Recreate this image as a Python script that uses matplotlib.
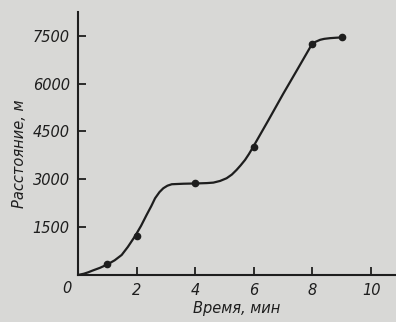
import matplotlib.pyplot as plt

# measured points (time, min / distance, m)
point_t = [1, 2, 4, 6, 8, 9]
point_s = [330, 1230, 2870, 4000, 7250, 7450]

# hand-drawn curve
curve_t = [0, 0.2, 0.35, 0.5, 0.75, 1.0, 1.25, 1.49, 1.7, 1.95, 2.15, 2.34,
           2.5, 2.63, 2.78, 2.91, 3.05, 3.2, 3.6, 4.0, 4.4, 4.62, 4.85,
           5.07, 5.25, 5.41, 5.55, 5.70, 5.83, 5.95, 6.5, 7.0, 7.5, 7.99,
           8.1, 8.26, 8.4, 8.6, 8.8, 9.0]
curve_s = [0, 40, 85, 140, 225, 330, 460, 628, 880, 1224, 1540, 1883,
           2160, 2407, 2600, 2720, 2800, 2846, 2862, 2870, 2882, 2897, 2950,
           3034, 3150, 3295, 3440, 3609, 3790, 3975, 4860, 5680, 6470, 7250,
           7310, 7375, 7405, 7427, 7440, 7450]

x_ticks = [2, 4, 6, 8, 10]
y_ticks = [1500, 3000, 4500, 6000, 7500]

bg = '#d8d8d6'
ink = '#1e1e1e'

fig = plt.figure(figsize=(3.96, 3.22), dpi=100, facecolor=bg)
ax = fig.add_axes([0.197, 0.146, 0.803, 0.817], facecolor=bg)

ax.plot(curve_t, curve_s, color=ink, lw=1.6, solid_capstyle='round',
        solid_joinstyle='round')
ax.plot(point_t, point_s, 'o', color=ink, ms=4.5)

ax.set_xlim(0, 10.85)
ax.set_ylim(0, 8250)
ax.set_xticks(x_ticks)
ax.set_yticks(y_ticks)
ax.set_xticklabels([str(v) for v in x_ticks], fontsize=10.5, style='italic', color=ink)
ax.set_yticklabels([str(v) for v in y_ticks], fontsize=10.5, style='italic', color=ink)
ax.tick_params(direction='in', length=6, width=1.3, color=ink, pad=6)

for side in ['top', 'right']:
    ax.spines[side].set_visible(False)
for side in ['left', 'bottom']:
    ax.spines[side].set_linewidth(1.5)
    ax.spines[side].set_color(ink)

ax.annotate('0', xy=(0, 0), xytext=(-8, -10), textcoords='offset points',
            ha='center', va='center', fontsize=10.5, style='italic', color=ink,
            annotation_clip=False)

ax.set_xlabel('Время, мин', fontsize=10.5, style='italic', color=ink, labelpad=2)
ax.set_ylabel('Расстояние, м', fontsize=10.5, style='italic', color=ink)
ax.yaxis.set_label_coords(-0.16, 0.46)

fig.savefig('out.png', dpi=100, facecolor=bg)
